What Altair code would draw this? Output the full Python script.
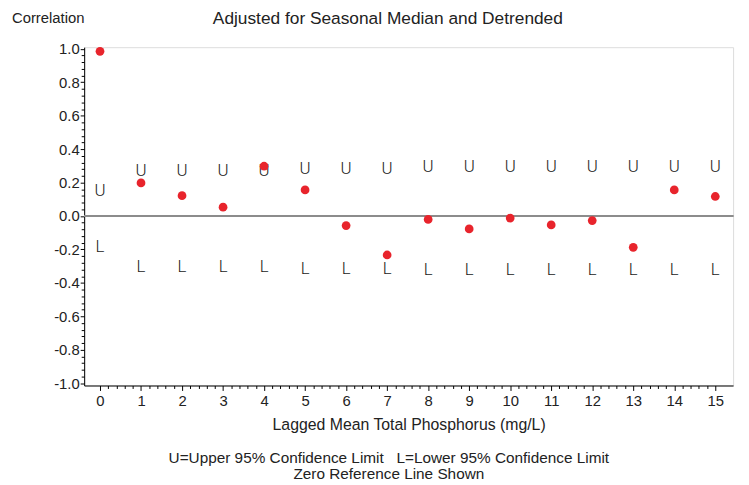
import altair as alt
import pandas as pd

# ---- data ----
lags = list(range(16))
correlation = [0.985, 0.198, 0.122, 0.053, 0.298, 0.156, -0.057, -0.233,
               -0.020, -0.077, -0.012, -0.053, -0.027, -0.187, 0.156, 0.117]
upper_cl = [0.152, 0.270, 0.270, 0.270, 0.270, 0.280, 0.280, 0.280,
            0.294, 0.294, 0.294, 0.294, 0.294, 0.294, 0.294, 0.294]
lower_cl = [-0.183, -0.305, -0.305, -0.305, -0.305, -0.317, -0.317, -0.317,
            -0.325, -0.325, -0.325, -0.325, -0.325, -0.325, -0.325, -0.325]

x_major = list(range(16))
y_major = [-1.0, -0.8, -0.6, -0.4, -0.2, 0.0, 0.2, 0.4, 0.6, 0.8, 1.0]
x_ticks = [round(i * 0.2, 2) for i in range(0, 76)]          # major + minor
y_ticks = [round(-1.0 + i * 0.04, 2) for i in range(0, 51)]  # major + minor

df = pd.DataFrame({"lag": lags, "corr": correlation,
                   "upper": upper_cl, "lower": lower_cl})

FONT = "Liberation Sans"
SYMFONT = "Roboto, Liberation Sans"

x_scale = alt.Scale(domain=[-0.386, 15.434], nice=False, zero=False)
y_scale = alt.Scale(domain=[-1.0136, 1.010], nice=False, zero=False)

x_is_major = "abs(datum.value - round(datum.value)) < 1e-6"
y_is_major = "abs(datum.value*5 - round(datum.value*5)) < 1e-6"

x_axis = alt.Axis(
    values=x_ticks, tickCount=500, title="Lagged Mean Total Phosphorus (mg/L)",
    labelExpr=f"{x_is_major} ? format(datum.value, 'd') : ''",
    labelOverlap=False, grid=False,
    tickSize=alt.condition(x_is_major, alt.value(5), alt.value(3)),
    tickColor="black", domainColor="black", labelColor="#222",
    labelFont=FONT, labelFontSize=15, labelPadding=3,
    titleFont=FONT, titleFontSize=16, titleFontWeight="normal",
    titleColor="#222", titlePadding=8,
)
y_axis = alt.Axis(
    values=y_ticks, tickCount=500, title=None,
    labelExpr=(f"{y_is_major} ? ((datum.value < -1e-9 ? '-' : '') + "
               "format(abs(datum.value), '.1f')) : ''"),
    labelOverlap=False, grid=False,
    tickSize=alt.condition(y_is_major, alt.value(4), alt.value(3)),
    tickColor="black", domainColor="black", labelColor="#222",
    labelFont=FONT, labelFontSize=15, labelPadding=1,
)

base = alt.Chart(df)

zero_line = base.mark_rule(color="#8c8c8c", strokeWidth=1.5).encode(
    y=alt.datum(0, scale=y_scale, axis=y_axis, type="quantitative"),
)

points = base.mark_circle(size=78, color="#e8242c", opacity=1).encode(
    x=alt.X("lag:Q", scale=x_scale, axis=x_axis),
    y=alt.Y("corr:Q", scale=y_scale, axis=y_axis),
)

u_text = base.mark_text(text="U", font=SYMFONT, fontSize=17, fontWeight=300,
                        color="#222", baseline="middle", align="center").encode(
    x=alt.X("lag:Q", scale=x_scale),
    y=alt.Y("upper:Q", scale=y_scale),
)
l_text = base.mark_text(text="L", font=SYMFONT, fontSize=17, fontWeight=300,
                        color="#222", baseline="middle", align="center").encode(
    x=alt.X("lag:Q", scale=x_scale),
    y=alt.Y("lower:Q", scale=y_scale),
)

def label(txt, x, y, size=15, align="center"):
    return alt.Chart(pd.DataFrame({"t": [txt]})).mark_text(
        font=FONT, fontSize=size, color="#222", align=align, baseline="middle"
    ).encode(text="t:N", x=alt.value(x), y=alt.value(y))

title2 = label("Adjusted for Seasonal Median and Detrended", 307, -28, 17.5)
ylab = label("Correlation", -73, -29, 15, "left")
foot1 = label("U=Upper 95% Confidence Limit\u00a0\u00a0\u00a0L=Lower 95% Confidence Limit",
              308, 415, 15.5)
foot2 = label("Zero Reference Line Shown", 308, 432, 15.5)

chart = alt.layer(zero_line, u_text, l_text, points, title2, ylab, foot1, foot2).properties(
    width=656, height=342,
    autosize=alt.AutoSizeParams(type="none"),
    padding={"left": 77, "top": 37, "right": 8, "bottom": 100},
).configure_view(stroke="black", strokeWidth=1).configure(background="white")

chart.save("out.html", embed_options={"renderer": "svg", "actions": False})
